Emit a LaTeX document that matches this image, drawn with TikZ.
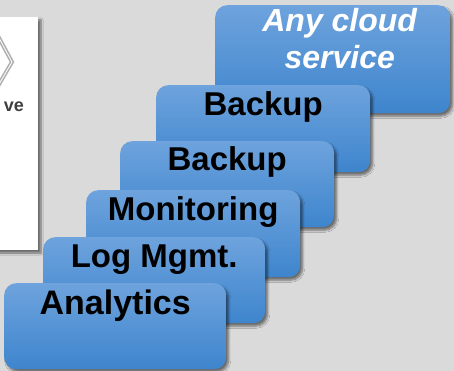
\documentclass[tikz,border=0pt]{standalone}
\usepackage{fontspec}
\setmainfont{Liberation Sans}
\usetikzlibrary{shadows.blur}

\definecolor{pagegray}{RGB}{218,218,218}
\definecolor{tiletop}{RGB}{110,163,221}
\definecolor{tilebot}{RGB}{62,133,205}
\definecolor{markgray}{RGB}{64,64,64}
\definecolor{lozgray}{RGB}{175,175,175}

\begin{document}
\begin{tikzpicture}[
  x=1pt, y=-1pt,
  tile/.style={rectangle, rounded corners=12pt, top color=tiletop, bottom color=tilebot,
    anchor=north west, minimum width=214pt, minimum height=87pt, inner sep=0pt,
    blur shadow={shadow xshift=2.5pt, shadow yshift=-3pt, shadow blur steps=6, shadow opacity=50}},
  tilelabel/.style={anchor=base, font=\fontsize{33}{36}\selectfont\bfseries, inner sep=0pt}
]
\useasboundingbox[fill=pagegray] (0,0) rectangle (454,371);

% white panel on the left, partly cut off
\path[fill=white, blur shadow={shadow xshift=3pt, shadow yshift=-3pt, shadow blur steps=6, shadow opacity=50}]
  (-10,17) rectangle (38,250);
\draw[lozgray, line width=1.6pt, double=white, double distance=0.8pt] (-2,36) -- (12,62) -- (-2,86);
\node[anchor=base east, font=\fontsize{18}{20}\selectfont\bfseries, text=markgray, inner sep=0pt] (archtext) at (24,112) {ve};

% stacked service tiles, back to front
\node[tile, minimum width=235pt, minimum height=108pt] (cloud) at (215,5) {};
\node[anchor=base, align=center, text=white, inner sep=0pt,
  font=\fontsize{32}{37}\selectfont\bfseries\itshape] (cloudtext) at ([xshift=7pt,yshift=-64pt]cloud.north) {Any cloud\\service};

\node[tile] (backupB) at (156,85) {};
\node[tilelabel] (backupBtext) at ([yshift=-31pt]backupB.north) {Backup};

\node[tile, minimum height=86pt] (backupA) at (120,141) {};
\node[tilelabel] (backupAtext) at ([yshift=-30pt]backupA.north) {Backup};

\node[tile] (monitor) at (86,190) {};
\node[tilelabel] (monitortext) at ([yshift=-30pt]monitor.north) {Monitoring};

\node[tile, minimum width=222pt, minimum height=86pt] (logs) at (43,237) {};
\node[tilelabel] (logstext) at ([yshift=-30pt]logs.north) {Log Mgmt.};

\node[tile, minimum width=222pt, minimum height=86pt] (analytics) at (4,283) {};
\node[tilelabel, font=\fontsize{34}{36}\selectfont\bfseries] (analyticstext) at ([yshift=-31pt]analytics.north) {Analytics};
\end{tikzpicture}
\end{document}
